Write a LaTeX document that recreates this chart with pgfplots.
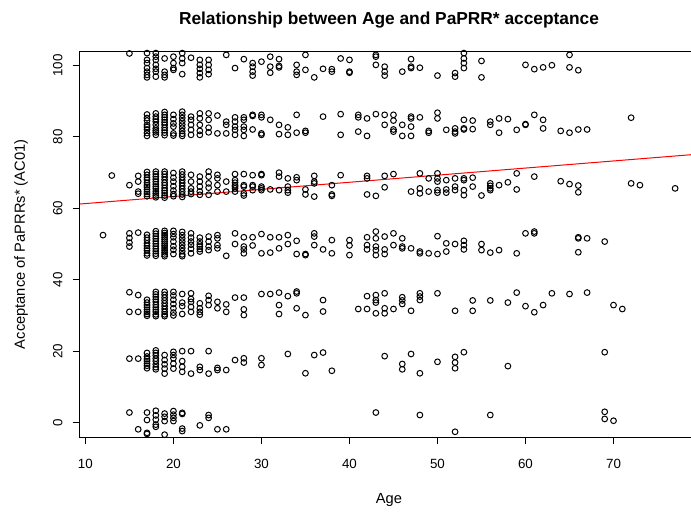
\documentclass[border=0pt]{standalone}
\usepackage{pgfplots}
\pgfplotsset{compat=1.18}
\usepackage{fontspec}
\setmainfont{Liberation Sans}
\begin{document}
\begin{tikzpicture}
\begin{axis}[
  at={(0,0)}, anchor=south west,
  scale only axis, width=463.5pt, height=289pt,
  xmin=9.386, xmax=79.6, ymin=-4.06, ymax=103.9,
  axis line style={line width=0.75pt},
  xtick={10,20,30,40,50,60,70}, ytick={0,20,40,60,80,100},
  tick align=outside, xtick pos=bottom, ytick pos=left,
  major tick length=5.6pt,
  tick style={line width=0.75pt, black},
  /pgf/number format/assume math mode=true,
  ticklabel style={font=\fontsize{10}{12}\selectfont},
  yticklabel style={rotate=90, anchor=center},
  xticklabel style={anchor=center},
  xticklabel shift=14.5pt, yticklabel shift=11pt,
  title={Relationship between Age and PaPRR* acceptance},
  title style={font=\bfseries\fontsize{13}{15}\selectfont, at={(axis description cs:0.5,1.0615)}, anchor=center},
  xlabel={Age},
  xlabel style={font=\fontsize{11}{13}\selectfont, at={(axis description cs:0.5,-0.1635)}, anchor=center},
  ylabel={Acceptance of PaPRRs* (AC01)},
  ylabel style={font=\fontsize{11}{13}\selectfont, at={(axis description cs:-0.0955,0.5)}, anchor=center},
]
\addplot[only marks, mark=o, mark size=2.15pt, mark options={line width=0.75pt, black}] coordinates {
(12,52.5)(13,69.2)
(15,103.4)(15,66.5)(15,53.0)(15,51.7)(15,50.4)(15,49.3)(15,36.5)(15,31.0)(15,17.9)(15,2.8)
(16,69.1)(16,67.5)(16,64.7)(16,64.1)(16,53.2)(16,35.7)(16,31.0)(16,17.9)(16,-1.9)
(17,103.5)(17,101.6)(17,100.7)(17,99.3)(17,98.3)(17,97.4)(17,96.7)
(17,86.3)(17,85.3)(17,84.6)(17,83.4)(17,82.8)(17,82.1)(17,81.1)(17,80.3)
(17,70.2)(17,69.4)(17,68.6)(17,68.0)(17,67.2)(17,66.5)(17,66.0)(17,65.3)(17,64.6)(17,64.0)(17,63.4)
(17,52.6)(17,51.8)(17,51.1)(17,50.2)(17,49.5)(17,48.8)(17,48.2)(17,47.4)(17,46.8)
(17,34.4)(17,33.6)(17,32.9)(17,32.3)(17,31.6)(17,31.0)(17,30.4)(17,29.9)
(17,19.5)(17,18.5)(17,17.8)(17,17.2)(17,16.5)(17,15.9)(17,15.2)
(17,2.8)(17,0.7)(17,-2.9)(17,-3.2)
(18,103.5)(18,102.5)(18,101.6)(18,100.2)(18,99.1)(18,98.3)(18,96.9)
(18,86.6)(18,85.7)(18,85.0)(18,84.3)(18,83.4)(18,82.4)(18,81.8)(18,81.3)(18,80.6)
(18,70.3)(18,69.6)(18,68.9)(18,68.2)(18,67.5)(18,66.8)(18,66.1)(18,65.5)(18,64.8)(18,64.2)(18,63.6)(18,63.1)
(18,53.6)(18,52.9)(18,52.2)(18,51.5)(18,50.8)(18,50.1)(18,49.4)(18,48.7)(18,48.0)(18,47.3)(18,46.7)
(18,36.6)(18,35.9)(18,35.2)(18,34.5)(18,33.8)(18,33.0)(18,32.3)(18,31.6)(18,31.0)(18,30.3)(18,29.8)
(18,20.2)(18,19.5)(18,18.8)(18,17.9)(18,17.2)(18,16.3)(18,15.5)(18,14.9)
(18,3.3)(18,2.0)(18,0.8)(18,-0.6)(18,-1.2)
(19,102.0)(19,98.3)(19,97.4)(19,96.7)
(19,87.0)(19,86.2)(19,85.5)(19,84.8)(19,84.1)(19,83.4)(19,82.6)(19,81.9)(19,81.2)(19,80.5)
(19,70.3)(19,69.6)(19,68.8)(19,68.0)(19,67.2)(19,66.5)(19,65.7)(19,65.0)(19,64.3)(19,63.6)(19,63.0)
(19,53.7)(19,53.1)(19,52.5)(19,51.9)(19,51.3)(19,50.7)(19,50.1)(19,49.5)(19,48.9)(19,48.3)(19,47.7)(19,47.1)(19,46.6)
(19,36.6)(19,35.8)(19,35.0)(19,34.2)(19,33.4)(19,32.6)(19,31.8)(19,31.0)(19,30.3)(19,29.8)
(19,18.9)(19,17.5)(19,16.3)(19,15.1)(19,13.7)
(19,2.5)(19,1.6)(19,0.4)(19,-3.4)
(20,102.5)(20,100.7)(20,99.3)(20,98.8)
(20,86.2)(20,85.0)(20,83.8)(20,82.9)(20,81.0)(20,80.4)
(20,69.9)(20,68.6)(20,67.5)(20,66.2)(20,65.0)(20,64.0)(20,63.4)
(20,53.7)(20,52.8)(20,51.9)(20,50.7)(20,49.4)(20,48.4)(20,47.2)
(20,36.6)(20,35.6)(20,34.4)(20,33.2)(20,32.0)(20,30.8)(20,30.0)
(20,19.8)(20,18.9)(20,18.0)(20,16.5)(20,15.1)
(20,3.2)(20,2.2)(20,1.3)(20,0.4)
(21,103.5)(21,102.0)(21,100.7)(21,97.6)
(21,87.1)(21,86.2)(21,85.3)(21,84.4)(21,83.5)(21,82.6)(21,81.7)(21,80.9)(21,80.3)
(21,70.3)(21,69.5)(21,68.7)(21,67.9)(21,67.1)(21,66.3)(21,65.5)(21,64.7)(21,63.9)(21,63.2)
(21,53.4)(21,52.5)(21,51.6)(21,50.7)(21,49.8)(21,48.9)(21,48.0)(21,47.1)(21,46.6)
(21,36.0)(21,33.6)(21,32.6)(21,30.4)
(21,20.0)(21,17.2)(21,15.6)(21,14.2)
(21,2.7)(21,2.4)(21,-1.7)(21,-2.4)
(22,102.2)(22,85.7)(22,84.8)(22,83.4)(22,82.0)(22,80.6)
(22,69.4)(22,67.5)(22,65.6)(22,64.7)(22,64.0)
(22,53.0)(22,51.8)(22,50.7)(22,49.8)(22,48.7)(22,47.4)
(22,36.2)(22,34.6)(22,33.8)(22,32.4)(22,31.0)(22,20.0)(22,13.7)
(23,101.6)(23,100.2)(23,99.1)(23,97.9)(23,96.7)
(23,86.6)(23,85.2)(23,83.4)(23,81.7)(23,80.6)
(23,68.9)(23,67.5)(23,66.1)(23,64.7)(23,63.8)
(23,51.8)(23,50.7)(23,49.9)(23,49.3)(23,48.6)(23,47.9)
(23,33.4)(23,32.0)(23,31.0)(23,30.2)(23,15.6)(23,14.7)(23,-0.8)
(24,101.6)(24,100.2)(24,98.8)(24,97.6)
(24,86.6)(24,84.8)(24,82.6)(24,81.3)
(24,70.3)(24,68.9)(24,67.0)(24,65.8)(24,63.8)
(24,52.1)(24,50.7)(24,49.3)(24,48.3)
(24,35.5)(24,34.3)(24,32.9)(24,20.0)(24,13.7)(24,2.1)(24,1.3)
(25,86.0)(25,81.0)(25,69.4)(25,68.4)(25,66.5)(25,64.7)
(25,52.5)(25,51.6)(25,49.7)(25,48.8)(25,33.8)(25,32.0)(25,15.3)(25,14.7)(25,-1.9)
(26,103.0)(26,84.3)(26,83.4)(26,81.0)(26,67.5)(26,64.7)(26,46.7)(26,33.1)(26,31.0)(26,14.7)(26,-1.9)
(27,99.3)(27,85.5)(27,84.3)(27,82.9)(27,82.0)(27,80.6)(27,69.6)(27,67.9)(27,67.2)(27,66.5)(27,66.1)(27,65.6)(27,64.7)(27,53.0)(27,50.0)(27,35.0)(27,17.5)
(28,101.8)(28,85.5)(28,84.8)(28,82.9)(28,82.0)(28,80.3)(28,69.6)(28,66.5)(28,66.1)(28,64.2)(28,63.6)(28,51.9)(28,49.3)(28,48.5)(28,47.4)(28,35.0)(28,31.7)(28,30.1)(28,18.0)(28,16.8)
(29,100.7)(29,99.7)(29,98.3)(29,97.2)(29,86.2)(29,85.9)(29,82.1)(29,69.3)(29,66.5)(29,66.1)(29,65.1)(29,51.9)(29,49.6)
(30,101.1)(30,86.2)(30,85.5)(30,81.0)(30,80.6)(30,69.6)(30,69.3)(30,66.1)(30,65.6)(30,65.1)(30,52.8)(30,47.4)(30,36.0)(30,18.0)(30,16.1)
(31,102.5)(31,99.7)(31,98.0)(31,84.8)(31,65.3)(31,51.9)(31,47.6)(31,36.0)
(32,101.8)(32,99.9)(32,99.5)(32,83.4)(32,80.8)(32,70.0)(32,68.9)(32,65.1)(32,51.9)(32,48.8)(32,36.4)(32,32.9)(32,30.4)
(33,82.7)(33,80.6)(33,68.4)(33,66.1)(33,65.1)(33,64.4)(33,52.5)(33,50.0)(33,35.4)(33,19.2)
(34,100.2)(34,98.3)(34,97.4)(34,86.2)(34,81.2)(34,68.7)(34,67.9)(34,50.9)(34,47.2)(34,36.7)(34,36.2)(34,32.0)
(35,103.0)(35,98.8)(35,81.7)(35,81.2)(35,65.3)(35,63.9)(35,47.2)(35,46.9)(35,30.1)(35,13.8)
(36,96.7)(36,69.1)(36,67.5)(36,67.0)(36,63.3)(36,53.0)(36,52.1)(36,49.7)(36,18.9)
(37,99.1)(37,85.7)(37,48.5)(37,34.3)(37,31.1)(37,19.6)
(38,99.0)(38,98.3)(38,66.5)(38,63.9)(38,63.5)(38,51.1)(38,47.4)(38,14.5)
(39,102.0)(39,86.4)(39,80.6)(39,69.3)
(40,101.6)(40,98.3)(40,98.0)(40,51.1)(40,49.6)(40,46.9)
(41,86.2)(41,85.5)(41,81.5)(41,31.8)
(42,85.2)(42,80.3)(42,69.1)(42,68.4)(42,63.9)(42,51.9)(42,49.7)(42,48.5)(42,35.4)(42,31.8)
(43,103.0)(43,102.5)(43,100.2)(43,86.4)(43,63.5)(43,53.5)(43,51.6)(43,49.3)(43,48.3)(43,46.9)(43,35.7)(43,34.3)(43,33.6)(43,30.6)(43,2.8)
(44,99.7)(44,98.3)(44,97.2)(44,86.2)(44,83.4)(44,69.1)(44,65.9)(44,52.1)(44,48.5)(44,47.2)(44,36.2)(44,32.0)(44,30.6)(44,18.6)
(45,86.2)(45,84.6)(45,82.1)(45,81.5)(45,69.6)(45,53.0)(45,49.7)(45,31.8)
(46,98.3)(46,83.4)(46,80.3)(46,51.6)(46,49.3)(46,48.8)(46,35.1)(46,34.2)(46,33.2)(46,16.4)(46,14.9)
(47,101.8)(47,99.7)(47,99.3)(47,85.7)(47,85.2)(47,82.9)(47,80.3)(47,64.7)(47,48.8)(47,31.3)(47,19.2)
(48,99.4)(48,85.5)(48,69.8)(48,65.6)(48,64.2)(48,47.9)(48,47.4)(48,36.2)(48,35.3)(48,34.3)(48,13.8)(48,2.1)
(49,81.7)(49,81.2)(49,68.4)(49,64.7)(49,47.4)
(50,97.2)(50,86.8)(50,85.2)(50,69.8)(50,68.4)(50,67.5)(50,65.1)(50,64.4)(50,52.2)(50,47.2)(50,36.2)(50,17.0)
(51,82.0)(51,67.9)(51,65.3)(51,64.4)(51,50.2)(51,47.9)
(52,97.9)(52,96.9)(52,82.4)(52,81.5)(52,81.0)(52,68.4)(52,66.1)(52,65.1)(52,50.0)(52,31.3)(52,18.4)(52,16.8)(52,15.2)(52,-2.6)
(53,103.5)(53,102.0)(53,100.7)(53,99.3)(53,84.8)(53,82.4)(53,82.1)(53,68.4)(53,67.9)(53,65.1)(53,63.7)(53,50.9)(53,49.7)(53,48.5)(53,19.7)
(54,84.6)(54,82.2)(54,68.6)(54,66.1)(54,34.2)(54,31.3)
(55,101.3)(55,96.7)(55,63.6)(55,50.0)(55,48.3)
(56,84.3)(56,83.4)(56,67.0)(56,66.3)(56,65.6)(56,65.1)(56,47.6)(56,34.2)(56,2.1)
(57,85.2)(57,81.2)(57,66.5)(57,48.3)
(58,85.0)(58,67.3)(58,33.6)(58,15.8)
(59,82.0)(59,69.8)(59,65.3)(59,47.4)(59,36.4)
(60,100.2)(60,83.6)(60,83.4)(60,53.0)(60,32.6)
(61,99.0)(61,86.2)(61,68.9)(61,53.5)(61,53.0)(61,30.9)
(62,99.5)(62,84.8)(62,82.4)(62,32.9)
(63,100.1)(63,36.2)
(64,81.7)(64,67.6)
(65,103.0)(65,99.5)(65,81.2)(65,66.8)(65,36.0)
(66,98.7)(66,82.1)(66,66.4)(66,64.5)(66,51.9)(66,51.6)(66,47.7)
(67,82.1)(67,51.6)(67,36.4)
(69,50.7)(69,19.7)(69,3.0)(69,1.0)
(70,32.9)(70,0.5)
(71,31.8)
(72,85.4)(72,67.0)
(73,66.5)
(77,65.6)
};
\addplot[red, line width=0.75pt] coordinates {(9.386,61.22)(79.6,75.19)};
\end{axis}
\pgfresetboundingbox
\path[use as bounding box] (-60pt,-55.5pt) rectangle (458.25pt,327.75pt);
\end{tikzpicture}
\end{document}
